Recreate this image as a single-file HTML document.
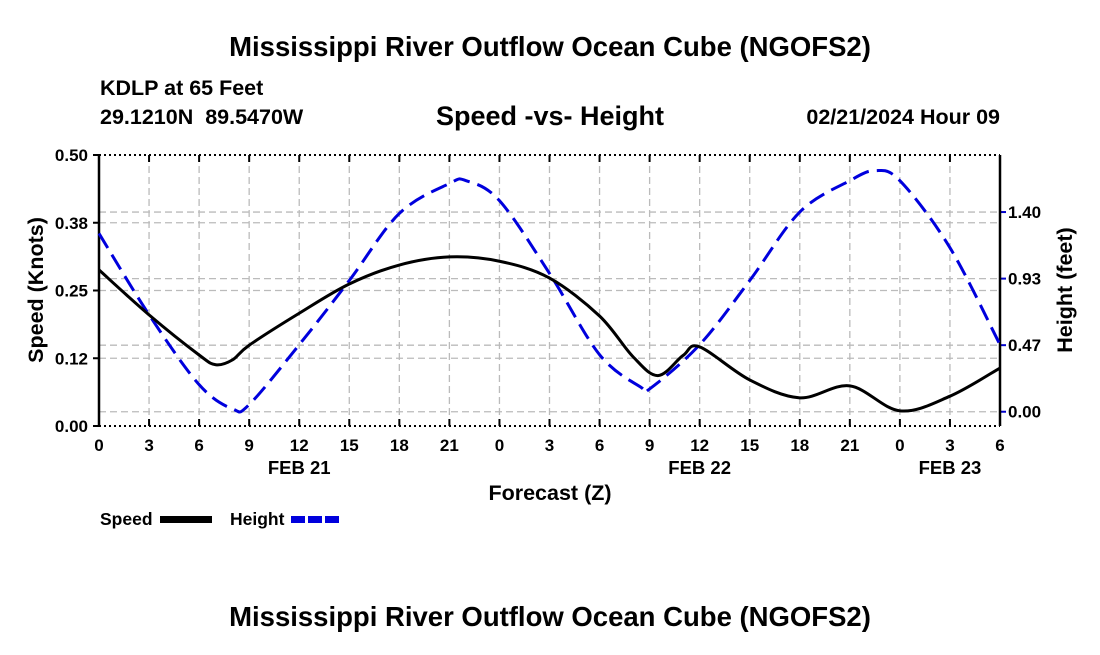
<!DOCTYPE html>
<html><head><meta charset="utf-8"><style>
body{margin:0;background:#fff;font-family:"Liberation Sans",sans-serif}
text{font-family:"Liberation Sans",sans-serif;font-weight:bold;white-space:pre}
</style></head><body>
<svg id="c" width="1100" height="650" xmlns="http://www.w3.org/2000/svg"></svg>
<script>
const hourTicks=[0,3,6,9,12,15,18,21,0,3,6,9,12,15,18,21,0,3,6];
const dayLabels=["FEB 21","FEB 22","FEB 23"];
const dayHours=[12,36,51];
const speedTicks=[0,0.125,0.25,0.375,0.5];
const speedTickLabels=["0.00","0.12","0.25","0.38","0.50"];
const heightTicks=[0,0.4667,0.9333,1.4];
const heightTickLabels=["0.00","0.47","0.93","1.40"];
const speedHours=[0,3,6,7,8,9,12,15,18,21,24,27,30,32,33.5,35,36,39,42,45,48,51,54];
const speedVals=[0.288,0.205,0.131,0.113,0.122,0.149,0.208,0.262,0.297,0.312,0.304,0.273,0.203,0.128,0.093,0.130,0.146,0.085,0.052,0.074,0.028,0.055,0.107];
const heightHours=[0,3,6,8,9,12,15,18,21,22,24,27,30,32.5,33,36,39,42,45,46.5,48,51,54];
const heightVals=[1.25,0.68,0.19,0.02,0.05,0.47,0.92,1.39,1.60,1.62,1.48,0.97,0.40,0.17,0.16,0.47,0.92,1.40,1.62,1.69,1.62,1.15,0.47];

const L=99,R=1000,T=155,B=426;
const x=h=>L+(R-L)*h/54;
const ys=v=>B-(B-T)*v/0.5;
const yh=v=>B-(B-T)*(v+0.1)/1.9;
const svg=document.getElementById('c');
const NS='http://www.w3.org/2000/svg';
function mk(tag,attrs,name,txt){const e=document.createElementNS(NS,tag);for(const k in attrs)e.setAttribute(k,attrs[k]);


if(txt!==undefined)e.textContent=txt;svg.appendChild(e);return e;}
function path(hs,vs,fy){const p=hs.map((h,i)=>[x(h),fy(vs[i])]);let d='M'+p[0][0]+','+p[0][1];
for(let i=0;i<p.length-1;i++){const p0=p[Math.max(i-1,0)],p1=p[i],p2=p[i+1],p3=p[Math.min(i+2,p.length-1)];
d+=` C${p1[0]+(p2[0]-p0[0])/6},${p1[1]+(p2[1]-p0[1])/6} ${p2[0]-(p3[0]-p1[0])/6},${p2[1]-(p3[1]-p1[1])/6} ${p2[0]},${p2[1]}`;}return d;}

mk('text',{x:550,y:56,'text-anchor':'middle','font-size':27.5},'chart-title','Mississippi River Outflow Ocean Cube (NGOFS2)');
mk('text',{x:100,y:95,'font-size':21.5},'station-label','KDLP at 65 Feet');
mk('text',{x:100,y:124,'font-size':21.5},'coordinates-label','29.1210N  89.5470W');
mk('text',{x:550,y:125,'text-anchor':'middle','font-size':27,'font-weight':'normal'},'subtitle','Speed -vs- Height');
mk('text',{x:1000,y:124,'text-anchor':'end','font-size':21.5},'date-label','02/21/2024 Hour 09');
mk('text',{x:550,y:626,'text-anchor':'middle','font-size':27.5},'footer-title','Mississippi River Outflow Ocean Cube (NGOFS2)');

hourTicks.forEach((t,i)=>{const xx=x(i*3);
if(i>0&&i<18)mk('line',{x1:xx,x2:xx,y1:T,y2:B,stroke:'#bbb','stroke-dasharray':'7,4','stroke-width':1.3},'x-gridline');
mk('line',{x1:xx,x2:xx,y1:B,y2:B-7,stroke:'#000','stroke-width':2},'x-tick');
mk('line',{x1:xx,x2:xx,y1:T,y2:T+7,stroke:'#000','stroke-width':2},'x-tick-top');
mk('text',{x:xx,y:451,'text-anchor':'middle','font-size':17},'x-tick-label',t);});
dayLabels.forEach((d,i)=>mk('text',{x:x(dayHours[i]),y:474,'text-anchor':'middle','font-size':18.5},'date-axis-label',d));
mk('text',{x:550,y:500,'text-anchor':'middle','font-size':21.5},'x-axis-title','Forecast (Z)');

speedTicks.forEach((v,i)=>{const yy=ys(v);
if(i>0&&i<4)mk('line',{x1:L,x2:R,y1:yy,y2:yy,stroke:'#bbb','stroke-dasharray':'7,4','stroke-width':1.3},'y-gridline');
mk('line',{x1:L-6,x2:L,y1:yy,y2:yy,stroke:'#000','stroke-width':2},'y-tick');
mk('text',{x:L-11,y:yy+6,'text-anchor':'end','font-size':17},'y-tick-label',speedTickLabels[i]);});
heightTicks.forEach((v,i)=>{const yy=yh(v);
mk('line',{x1:L,x2:R,y1:yy,y2:yy,stroke:'#bbb','stroke-dasharray':'7,4','stroke-width':1.3},'y2-gridline');
mk('line',{x1:R,x2:R+6,y1:yy,y2:yy,stroke:'#00c','stroke-width':2},'y2-tick');
mk('text',{x:R+8,y:yy+6,'font-size':17},'y2-tick-label',heightTickLabels[i]);});
mk('text',{x:43,y:290,'text-anchor':'middle','font-size':21.5,transform:'rotate(-90 43 290)'},'y-axis-title','Speed (Knots)');
mk('text',{x:1072,y:290,'text-anchor':'middle','font-size':21.5,transform:'rotate(-90 1072 290)'},'y2-axis-title','Height (feet)');

mk('line',{x1:L,x2:R,y1:T,y2:T,stroke:'#000','stroke-width':2,'stroke-dasharray':'2,3'},'top-border');
mk('line',{x1:L,x2:R,y1:B,y2:B,stroke:'#000','stroke-width':2,'stroke-dasharray':'2,3'},'bottom-border');
mk('line',{x1:L,x2:L,y1:T,y2:B,stroke:'#000','stroke-width':2.5},'left-axis');
mk('line',{x1:R,x2:R,y1:T,y2:B,stroke:'#000','stroke-width':2.5},'right-axis');

mk('path',{d:path(heightHours,heightVals,yh),fill:'none',stroke:'#00d','stroke-width':3,'stroke-dasharray':'17,8'},'height-line');
mk('path',{d:path(speedHours,speedVals,ys),fill:'none',stroke:'#000','stroke-width':3},'speed-line');

mk('text',{x:100,y:525,'font-size':17.5},'legend-speed-label','Speed');
mk('rect',{x:160,y:516,width:52,height:7,fill:'#000'},'legend-speed-swatch');
mk('text',{x:230,y:525,'font-size':17.5},'legend-height-label','Height');
mk('line',{x1:291,x2:342,y1:519.5,y2:519.5,stroke:'#00d','stroke-width':7,'stroke-dasharray':'14,3'},'legend-height-swatch');
</script>
</body></html>
